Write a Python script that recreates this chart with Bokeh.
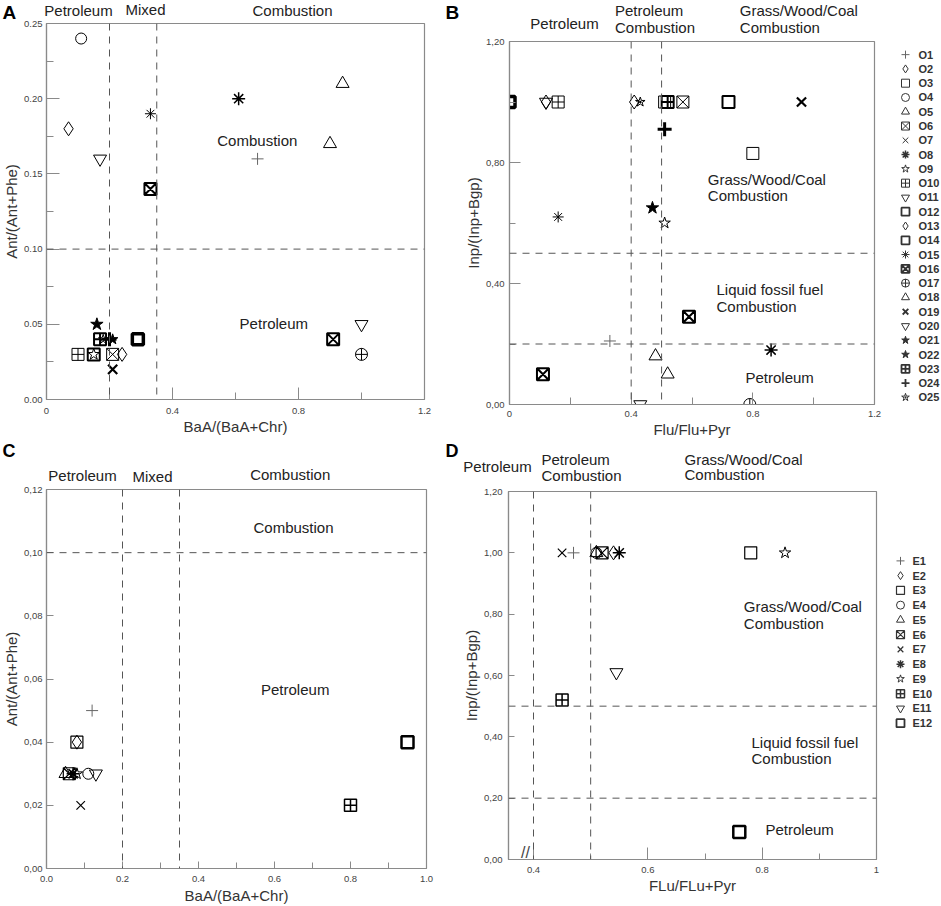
from bokeh.plotting import figure
from bokeh.models import (ColumnDataSource, FixedTicker, Span, Label, Range1d, FactorRange)
from bokeh.layouts import row, column
from bokeh.core.properties import value
from bokeh.embed import file_html
from bokeh.resources import INLINE

FONT = "Liberation Sans"
GRAY = "#8a8a8a"
DASH = "#555555"
TXT = "#222222"

# ---------------- data ----------------
o_series = ["O1", "O2", "O3", "O4", "O5", "O6", "O7", "O8", "O9", "O10", "O11", "O12", "O13",
            "O14", "O15", "O16", "O17", "O18", "O19", "O20", "O21", "O22", "O23", "O24", "O25"]
e_series = ["E1", "E2", "E3", "E4", "E5", "E6", "E7", "E8", "E9", "E10", "E11", "E12"]

# Panel A: BaA/(BaA+Chr) vs Ant/(Ant+Phe), sites O
a_site = ["O1", "O2", "O4", "O5", "O18", "O8", "O15", "O16", "O11", "O21", "O23", "O25",
          "O24", "O22", "O14", "O10", "O12", "O9", "O6", "O13", "O19", "O16", "O20", "O17"]
a_x = [0.67, 0.07, 0.11, 0.94, 0.90, 0.61, 0.33, 0.33, 0.17, 0.16, 0.17, 0.18,
       0.20, 0.21, 0.29, 0.10, 0.15, 0.15, 0.21, 0.24, 0.21, 0.91, 1.00, 1.00]
a_y = [0.16, 0.18, 0.24, 0.21, 0.17, 0.20, 0.19, 0.14, 0.16, 0.05, 0.04, 0.04,
       0.04, 0.04, 0.04, 0.03, 0.03, 0.03, 0.03, 0.03, 0.02, 0.04, 0.05, 0.03]

# Panel B: Flu/(Flu+Pyr) vs Inp/(Inp+Bgp), sites O
b_site = ["O14", "O2", "O11", "O10", "O13", "O25", "O3", "O23", "O6", "O12", "O19", "O24",
          "O3", "O21", "O9", "O15", "O16", "O1", "O5", "O18", "O16", "O7", "O8", "O20", "O17"]
b_x = [0.00, 0.12, 0.12, 0.16, 0.41, 0.43, 0.51, 0.52, 0.57, 0.72, 0.96, 0.51,
       0.80, 0.47, 0.51, 0.16, 0.59, 0.33, 0.48, 0.52, 0.11, 0.86, 0.86, 0.43, 0.79]
b_y = [1.00, 1.00, 1.00, 1.00, 1.00, 1.00, 1.00, 1.00, 1.00, 1.00, 1.00, 0.91,
       0.83, 0.65, 0.60, 0.62, 0.29, 0.21, 0.16, 0.10, 0.10, 0.18, 0.18, 0.00, 0.00]

# Panel C: BaA/(BaA+Chr) vs Ant/(Ant+Phe), sites E
c_site = ["E1", "E2", "E3", "E5", "E6", "E8", "E9", "E4", "E11", "E7", "E12", "E10"]
c_x = [0.12, 0.08, 0.08, 0.05, 0.06, 0.07, 0.08, 0.11, 0.13, 0.09, 0.95, 0.80]
c_y = [0.05, 0.04, 0.04, 0.03, 0.03, 0.03, 0.03, 0.03, 0.03, 0.02, 0.04, 0.02]

# Panel D: FLu/(FLu+Pyr) vs Inp/(Inp+Bgp), sites E
d_site = ["E7", "E1", "E4", "E5", "E6", "E2", "E8", "E3", "E9", "E11", "E10", "E12"]
d_x = [0.45, 0.47, 0.51, 0.51, 0.52, 0.54, 0.55, 0.78, 0.84, 0.545, 0.45, 0.76]
d_y = [1.00, 1.00, 1.00, 1.00, 1.00, 1.00, 1.00, 1.00, 1.00, 0.61, 0.52, 0.09]

# source-diagnostic thresholds
a_vlines, a_hlines = [0.2, 0.35], [0.1]
b_vlines, b_hlines = [0.4, 0.5], [0.5, 0.2]
c_vlines, c_hlines = [0.2, 0.35], [0.1]
d_vlines, d_hlines = [0.4, 0.5], [0.5, 0.2]

# ticks
a_xticks, a_xlabels, a_xminor = [0.0, 0.4, 0.8, 1.2], ["0", "0.4", "0.8", "1.2"], [0.2, 0.6, 1.0]
a_yticks = [0.0, 0.05, 0.10, 0.15, 0.20, 0.25]
a_ylabels = ["0.00", "0.05", "0.10", "0.15", "0.20", "0.25"]
a_yminor = [0.025, 0.075, 0.125, 0.175, 0.225]
b_xticks, b_xlabels, b_xminor = [0.0, 0.4, 0.8, 1.2], ["0", "0.4", "0.8", "1.2"], [0.2, 0.6, 1.0]
b_yticks, b_ylabels, b_yminor = [0.0, 0.4, 0.8, 1.2], ["0,00", "0,40", "0,80", "1,20"], [0.2, 0.6, 1.0]
c_xticks = [0.0, 0.2, 0.4, 0.6, 0.8, 1.0]
c_xlabels = ["0.0", "0.2", "0.4", "0.6", "0.8", "1.0"]
c_xminor = [0.1, 0.3, 0.5, 0.7, 0.9]
c_yticks = [0.0, 0.02, 0.04, 0.06, 0.08, 0.10, 0.12]
c_ylabels = ["0,00", "0,02", "0,04", "0,06", "0,08", "0,10", "0,12"]
d_xticks, d_xlabels, d_xminor = [0.4, 0.6, 0.8, 1.0], ["0.4", "0.6", "0.8", "1"], [0.5, 0.7, 0.9]
d_yticks = [0.0, 0.2, 0.4, 0.6, 0.8, 1.0, 1.2]
d_ylabels = ["0,00", "0,20", "0,40", "0,60", "0,80", "1,00", "1,20"]

# marker styles: marker, size, line width, fill, colour
STYLE = {
    "O1": ("cross", 12, 1.0, None, "#666666"),
    "O2": ("diamond", 14, 1.0, None, "black"),
    "O3": ("square", 12, 1.0, None, "black"),
    "O4": ("circle", 11, 1.0, None, "black"),
    "O5": ("triangle", 13, 1.0, None, "black"),
    "O6": ("square_x", 12, 1.0, None, "black"),
    "O7": ("x", 12, 1.0, None, "black"),
    "O8": ("asterisk", 13, 1.5, None, "black"),
    "O9": ("star", 12, 1.0, None, "black"),
    "O10": ("square_cross", 12, 1.0, None, "black"),
    "O11": ("inverted_triangle", 13, 1.0, None, "black"),
    "O12": ("square", 12, 2.0, None, "black"),
    "O13": ("diamond", 14, 1.0, None, "black"),
    "O14": ("square", 11, 3.5, None, "black"),
    "O15": ("asterisk", 11, 1.0, None, "black"),
    "O16": ("square_x", 12, 2.0, None, "black"),
    "O17": ("circle_cross", 12, 1.0, None, "black"),
    "O18": ("triangle", 13, 1.0, None, "black"),
    "O19": ("x", 13, 2.2, None, "black"),
    "O20": ("inverted_triangle", 13, 1.0, None, "black"),
    "O21": ("star", 13, 1.0, "black", "black"),
    "O22": ("star", 11, 1.0, "black", "black"),
    "O23": ("square_cross", 12, 2.0, None, "black"),
    "O24": ("cross", 14, 3.0, None, "black"),
    "O25": ("star_dot", 10, 1.0, None, "black"),
    "E1": ("cross", 12, 1.0, None, "#666666"),
    "E2": ("diamond", 14, 1.0, None, "black"),
    "E3": ("square", 12, 1.2, None, "black"),
    "E4": ("circle", 11, 1.0, None, "black"),
    "E5": ("triangle", 13, 1.0, None, "black"),
    "E6": ("square_x", 12, 1.2, None, "black"),
    "E7": ("x", 12, 1.2, None, "black"),
    "E8": ("asterisk", 13, 1.5, None, "black"),
    "E9": ("star", 12, 1.0, None, "black"),
    "E10": ("square_cross", 12, 1.5, None, "black"),
    "E11": ("inverted_triangle", 13, 1.0, None, "black"),
    "E12": ("square", 12, 2.5, None, "black"),
}

OVERLAP = 6  # plot canvases reach this many pixels up under the header strips


def make_fig(xr, yr, w, h, left, right, bottom, xlabel, ylabel):
    p = figure(x_range=xr, y_range=yr, width=w, height=h, title=None,
               min_border_left=left, min_border_right=right,
               min_border_top=OVERLAP, min_border_bottom=bottom,
               output_backend="svg", toolbar_location=None, tools="")
    p.margin = (-OVERLAP, 0, 0, 0)
    p.grid.visible = False
    p.outline_line_color = GRAY
    p.outline_line_width = 1.2
    p.background_fill_color = "white"
    p.border_fill_alpha = 0
    for ax, lab in ((p.xaxis[0], xlabel), (p.yaxis[0], ylabel)):
        ax.axis_line_color = GRAY
        ax.axis_line_width = 1.2
        ax.major_tick_line_color = GRAY
        ax.minor_tick_line_color = GRAY
        ax.major_tick_out = 0
        ax.minor_tick_out = 0
        ax.major_label_text_font = FONT
        ax.major_label_text_font_size = "9.5px"
        ax.major_label_text_color = "#444444"
        ax.axis_label = lab
        ax.axis_label_text_font = FONT
        ax.axis_label_text_font_size = "15px"
        ax.axis_label_text_font_style = "normal"
        ax.axis_label_text_color = "#333333"
    return p


def set_ticks(axis, ticks, labels, minor, tin, tmin, standoff, label_standoff):
    axis.ticker = FixedTicker(ticks=ticks, minor_ticks=minor)
    axis.major_label_overrides = {t: l for t, l in zip(ticks, labels)}
    axis.major_tick_in = tin
    axis.minor_tick_in = tmin
    axis.major_label_standoff = standoff
    axis.axis_label_standoff = label_standoff


def add_lines(p, vlines, hlines):
    for v in vlines:
        p.add_layout(Span(location=v, dimension="height", line_color=DASH,
                          line_width=1, line_dash="7 6"))
    for h in hlines:
        p.add_layout(Span(location=h, dimension="width", line_color=DASH,
                          line_width=1, line_dash="7 6"))


def add_points(p, sites, xs, ys, series):
    for s in series:
        px = [x for x, k in zip(xs, sites) if k == s]
        py = [y for y, k in zip(ys, sites) if k == s]
        if not px:
            continue
        m, size, lw, fill, col = STYLE[s]
        src = ColumnDataSource(data=dict(x=px, y=py))
        p.scatter("x", "y", source=src, marker=m, size=size, line_color=col,
                  line_width=lw, fill_color=fill)


def inside_text(p, frame, xr, yr, items):
    fl, ft, fw, fh = frame
    for text, px, py, align in items:
        x = xr[0] + (px - fl) / fw * (xr[1] - xr[0])
        y = yr[0] + (ft + fh - py) / fh * (yr[1] - yr[0])
        p.add_layout(Label(x=x, y=y, text=text, text_align=align, text_baseline="middle",
                           text_font=FONT, text_font_size="15px", text_color=TXT))


def strip(x0, x1, y0, y1, items):
    s = figure(width=x1 - x0, height=y1 - y0, x_range=Range1d(x0, x1), y_range=Range1d(y1, y0),
               title=None, min_border=0, min_border_left=0, min_border_right=0,
               min_border_top=0, min_border_bottom=0, x_axis_type=None, y_axis_type=None,
               output_backend="svg", toolbar_location=None, tools="")
    s.outline_line_color = None
    s.grid.visible = False
    for text, px, py, align, size, bold in items:
        s.text(x=[px], y=[py], text=[text], text_align=value(align),
               text_baseline=value("middle"), text_font=value(FONT),
               text_font_size=value(size), text_font_style=value("bold" if bold else "normal"),
               text_color=value("black" if bold else TXT))
    return s


def legend_fig(series, x0, x1, height, top, bottom, mx, tx):
    lf = figure(width=x1 - x0, height=height, x_range=Range1d(x0, x1),
                y_range=FactorRange(factors=list(reversed(series))),
                title=None, min_border_left=0, min_border_right=0,
                min_border_top=top, min_border_bottom=bottom,
                x_axis_type=None, y_axis_type=None,
                output_backend="svg", toolbar_location=None, tools="")
    lf.outline_line_color = None
    lf.grid.visible = False
    for s in series:
        m, size, lw, fill, col = STYLE[s]
        lf.scatter(x=[mx], y=[s], marker=m, size=8, line_color=col if col != "black" else "#333333",
                   line_width=min(lw, 1.8), fill_color=fill if fill is None else "#333333")
    lf.text(x=[tx] * len(series), y=series, text=series, text_align=value("left"),
            text_baseline=value("middle"), text_font=value(FONT), text_font_size=value("11px"),
            text_font_style=value("bold"), text_color=value("#333333"))
    return lf


# ---------------- Panel A ----------------
A_X, A_Y, A_F = (0, 1.2), (0, 0.25), (46, 23, 378, 376)
pA = make_fig(A_X, A_Y, 460, OVERLAP + 376 + 41, 46, 36, 41, "BaA/(BaA+Chr)", "Ant/(Ant+Phe)")
set_ticks(pA.xaxis[0], a_xticks, a_xlabels, a_xminor, 12, 7, 8, 1)
set_ticks(pA.yaxis[0], a_yticks, a_ylabels, a_yminor, 13, 7, 4, 1)
add_lines(pA, a_vlines, a_hlines)
add_points(pA, a_site, a_x, a_y, o_series)
inside_text(pA, A_F, A_X, A_Y, [("Combustion", 256.8, 139.5, "center"),
                                ("Petroleum", 273.3, 322.5, "center")])

# ---------------- Panel B ----------------
B_X, B_Y, B_F = (0, 1.2), (0, 1.2), (509, 41, 365, 365)
pB = make_fig(B_X, B_Y, 424, OVERLAP + 365 + 34, 49, 10, 34, "Flu/Flu+Pyr", "Inp/(Inp+Bgp)")
set_ticks(pB.xaxis[0], b_xticks, b_xlabels, b_xminor, 12, 7, 6, 1)
set_ticks(pB.yaxis[0], b_yticks, b_ylabels, b_yminor, 11, 6, 5, 1)
add_lines(pB, b_vlines, b_hlines)
add_points(pB, b_site, b_x, b_y, o_series)
inside_text(pB, B_F, B_X, B_Y, [("Grass/Wood/Coal", 707.3, 179.5, "left"),
                                ("Combustion", 707.3, 195.8, "left"),
                                ("Liquid fossil fuel", 716, 290.8, "left"),
                                ("Combustion", 716, 307.8, "left"),
                                ("Petroleum", 745, 379.2, "left")])

# ---------------- Panel C ----------------
C_X, C_Y, C_F = (0, 1.0), (0, 0.12), (46, 489, 380, 379)
pC = make_fig(C_X, C_Y, 460, OVERLAP + 379 + 38, 46, 34, 38, "BaA/(BaA+Chr)", "Ant/(Ant+Phe)")
set_ticks(pC.xaxis[0], c_xticks, c_xlabels, c_xminor, 7, 6, 7, 2)
set_ticks(pC.yaxis[0], c_yticks, c_ylabels, [], 7, 0, 4, 1)
add_lines(pC, c_vlines, c_hlines)
add_points(pC, c_site, c_x, c_y, e_series)
inside_text(pC, C_F, C_X, C_Y, [("Combustion", 293, 527, "center"),
                                ("Petroleum", 294.7, 688.8, "center")])

# ---------------- Panel D ----------------
D0 = 0.4 - 25 * 0.6 / 343
D_X, D_Y, D_F = (D0, 1.0), (0, 1.2), (508, 491, 368, 368)
pD = make_fig(D_X, D_Y, 424, OVERLAP + 368 + 47, 48, 8, 47, "FLu/FLu+Pyr", "Inp/(Inp+Bgp)")
set_ticks(pD.xaxis[0], d_xticks, d_xlabels, d_xminor, 12, 6, 7, 1)
set_ticks(pD.yaxis[0], d_yticks, d_ylabels, [], 6, 0, 6, 1)
add_lines(pD, d_vlines, d_hlines)
add_points(pD, d_site, d_x, d_y, e_series)
inside_text(pD, D_F, D_X, D_Y, [("Grass/Wood/Coal", 743.3, 606, "left"),
                                ("Combustion", 743.3, 623.3, "left"),
                                ("Liquid fossil fuel", 751, 741.5, "left"),
                                ("Combustion", 751, 758.3, "left"),
                                ("Petroleum", 765, 828.5, "left")])
pD.add_layout(Label(x=0.386, y=7 * 1.2 / 368, text="//", text_align="center",
                    text_baseline="middle", text_font=FONT, text_font_size="16px",
                    text_color="#444444"))

# ---------------- region headers and panel letters ----------------
sA = strip(0, 460, 0, 23, [("A", 2, 11.7, "left", "19px", True), ("B", 445, 11.7, "left", "19px", True),
                           ("Petroleum", 78, 10.2, "center", "15px", False),
                           ("Mixed", 145, 8.5, "center", "15px", False),
                           ("Combustion", 292, 10, "center", "15px", False)])
sB = strip(460, 884, 0, 41, [("Petroleum", 564, 22.5, "center", "15px", False),
                             ("Petroleum", 614.5, 10, "left", "15px", False),
                             ("Combustion", 614.5, 26.5, "left", "15px", False),
                             ("Grass/Wood/Coal", 739.3, 10, "left", "15px", False),
                             ("Combustion", 739.3, 26.5, "left", "15px", False)])
sC = strip(0, 460, 440, 489, [("C", 2, 450.5, "left", "18px", True), ("D", 445, 450.5, "left", "18px", True),
                              ("Petroleum", 82, 475, "center", "15px", False),
                              ("Mixed", 152, 475.5, "center", "15px", False),
                              ("Combustion", 289.7, 473.5, "center", "15px", False)])
sD = strip(460, 884, 440, 491, [("Petroleum", 497, 466, "center", "15px", False),
                                ("Petroleum", 541, 458.5, "left", "15px", False),
                                ("Combustion", 541, 474.5, "left", "15px", False),
                                ("Grass/Wood/Coal", 684, 458.5, "left", "15px", False),
                                ("Combustion", 684, 474, "left", "15px", False)])

# ---------------- legends ----------------
lB = legend_fig(o_series, 884, 941, 440, 47, 36, 905, 918)
lE = legend_fig(e_series, 884, 941, 466, 113, 176, 900, 912)

# every figure sits in its own container so that no frame alignment is applied
layout = column(row(column(row(sA), row(pA)), column(row(sB), row(pB)), row(lB)),
                row(column(row(sC), row(pC)), column(row(sD), row(pD)), row(lE)))
open("out.html", "w").write(file_html(layout, INLINE))
